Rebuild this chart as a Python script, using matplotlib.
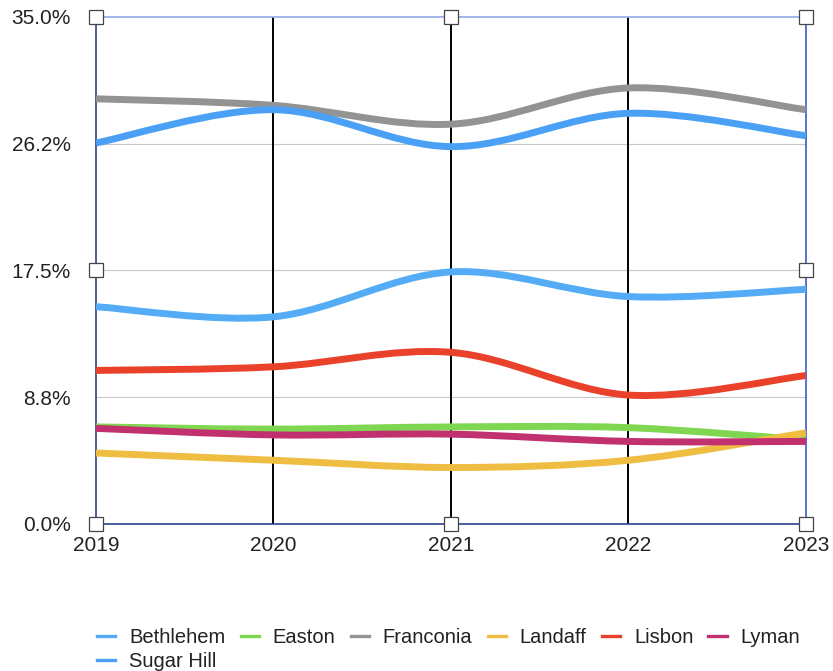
import matplotlib
matplotlib.use("Agg")
import matplotlib.pyplot as plt
from matplotlib.path import Path
from matplotlib.patches import PathPatch
from matplotlib.lines import Line2D

plt.rcParams['font.family'] = ['Liberation Sans', 'DejaVu Sans']

years = [2019, 2020, 2021, 2022, 2023]

# share by town, percent
bethlehem = [15.0, 14.3, 17.4, 15.7, 16.2]
easton = [6.7, 6.55, 6.7, 6.65, 5.8]
franconia = [29.35, 28.9, 27.6, 30.1, 28.6]
landaff = [4.9, 4.4, 3.9, 4.4, 6.3]
lisbon = [10.6, 10.85, 11.85, 8.9, 10.25]
lyman = [6.6, 6.15, 6.2, 5.7, 5.7]
sugar_hill = [26.3, 28.6, 26.05, 28.35, 26.8]

towns = ["Bethlehem", "Easton", "Franconia", "Landaff", "Lisbon", "Lyman", "Sugar Hill"]
series = [bethlehem, easton, franconia, landaff, lisbon, lyman, sugar_hill]
colors = ["#55acf6", "#7fd651", "#939393", "#f0bd43", "#e9412a", "#c1306f", "#4aa0f5"]

y_ticks = [0, 8.75, 17.5, 26.25, 35]
y_labels = ["0.0%", "8.8%", "17.5%", "26.2%", "35.0%"]


def smooth_path(xs, ys):
    # Catmull-Rom through the points, written as cubic Bezier segments
    pts = list(zip(xs, ys))
    ext = [pts[0]] + pts + [pts[-1]]
    verts = [pts[0]]
    codes = [Path.MOVETO]
    for i in range(1, len(ext) - 2):
        p0, p1, p2, p3 = ext[i - 1], ext[i], ext[i + 1], ext[i + 2]
        c1 = (p1[0] + (p2[0] - p0[0]) / 6, p1[1] + (p2[1] - p0[1]) / 6)
        c2 = (p2[0] - (p3[0] - p1[0]) / 6, p2[1] - (p3[1] - p1[1]) / 6)
        verts += [c1, c2, p2]
        codes += [Path.CURVE4] * 3
    return Path(verts, codes)


fig = plt.figure(figsize=(8.33, 6.71), dpi=100)
ax = fig.add_axes([0.1152, 0.2191, 0.8524, 0.7556])

ax.set_xlim(years[0], years[-1])
ax.set_ylim(0, 35)

for y in y_ticks[1:-1]:
    ax.axhline(y, color="#c8c8c8", lw=0.8, zorder=1)
for x in years[1:-1]:
    ax.axvline(x, color="black", lw=1.4, zorder=1)

for name, vals, c in zip(towns, series, colors):
    ax.add_patch(PathPatch(smooth_path(years, vals), fill=False, edgecolor=c,
                           lw=5.0, capstyle="butt", joinstyle="round", zorder=3))

ax.set_yticks(y_ticks)
ax.set_yticklabels(y_labels)
ax.set_xticks(years)
ax.set_xticklabels([str(y) for y in years])
ax.tick_params(axis="y", length=0, pad=18, labelsize=15, labelcolor="#222222")
ax.tick_params(axis="x", length=0, pad=9, labelsize=15, labelcolor="#222222")

ax.spines["left"].set_color("#2b4190")
ax.spines["bottom"].set_color("#2b4190")
ax.spines["top"].set_color("#93a8e6")
ax.spines["right"].set_color("#3b5bd0")
for s in ax.spines.values():
    s.set_linewidth(1.2)

# selection handles around the chart frame
hx = [0, 0.5, 1, 0, 1, 0, 0.5, 1]
hy = [0, 0, 0, 0.5, 0.5, 1, 1, 1]
ax.plot(hx, hy, ls="none", marker="s", ms=9.5, mfc="white", mec="#444444",
        mew=0.9, transform=ax.transAxes, clip_on=False, zorder=10)

# legend: Sugar Hill sits under Bethlehem in the first column
order = [0, 6, 1, 2, 3, 4, 5]
handles = [Line2D([], [], color=colors[i], lw=2.4) for i in order]
labels = [towns[i] for i in order]
leg = fig.legend(handles, labels, ncol=6, loc="upper left",
                 bbox_to_anchor=(0.1164, 1 - 628 / 671), frameon=False, fontsize=14.5,
                 handlelength=0.9, handletextpad=0.7, columnspacing=0.75,
                 labelspacing=0.25, borderaxespad=0, borderpad=0)
for t in leg.get_texts():
    t.set_color("#222222")

fig.savefig("out.png", dpi=100)
